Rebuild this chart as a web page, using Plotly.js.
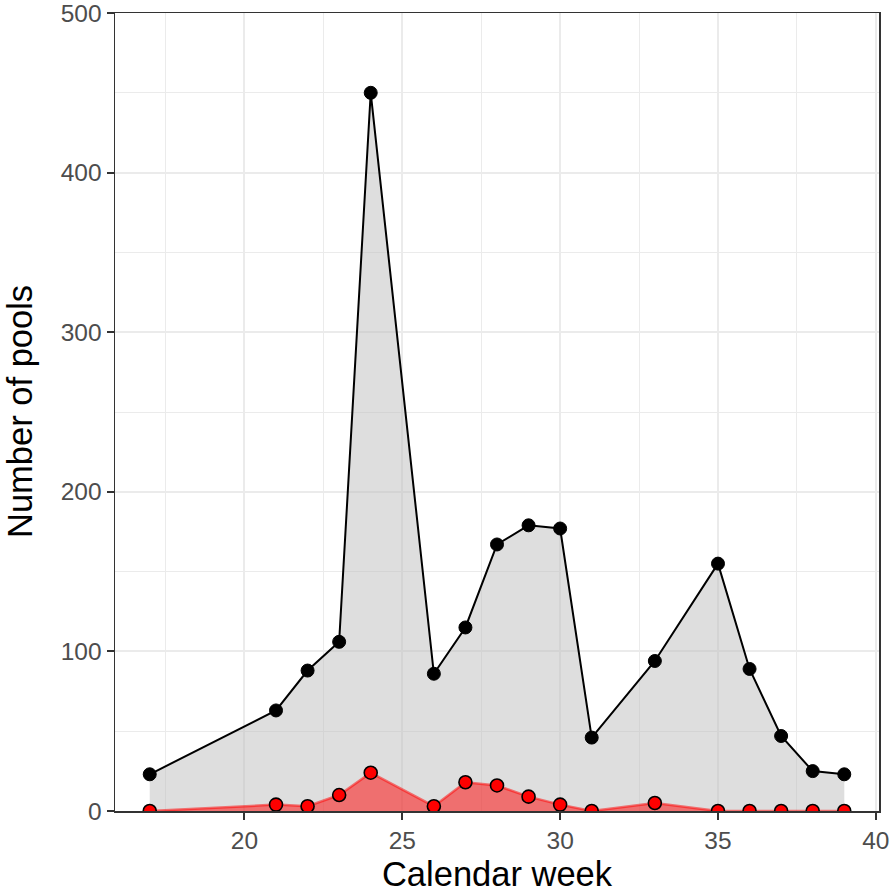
<!DOCTYPE html>
<html>
<head>
<meta charset="utf-8">
<script src="https://cdn.plot.ly/plotly-3.0.1.min.js"></script>
<style>html,body{margin:0;padding:0;background:#fff;}#chart{width:894px;height:893px;}</style>
</head>
<body>
<div id="chart"></div>
<script>
const weeks = [17, 21, 22, 23, 24, 26, 27, 28, 29, 30, 31, 33, 35, 36, 37, 38, 39];
const totalPools = [23, 63, 88, 106, 450, 86, 115, 167, 179, 177, 46, 94, 155, 89, 47, 25, 23];
const positivePools = [0, 4, 3, 10, 24, 3, 18, 16, 9, 4, 0, 5, 0, 0, 0, 0, 0];
const xTicks = [20, 25, 30, 35, 40];
const yTicks = [0, 100, 200, 300, 400, 500];

const traces = [
  {
    x: weeks, y: totalPools, type: 'scatter', mode: 'lines',
    fill: 'tozeroy', fillcolor: 'rgba(190,190,190,0.5)',
    line: {color: 'rgba(0,0,0,0)', width: 0}, hoverinfo: 'skip'
  },
  {
    x: weeks, y: totalPools, type: 'scatter', mode: 'lines+markers',
    line: {color: '#000000', width: 2},
    marker: {color: '#000000', size: 13, line: {color: '#000000', width: 1}}
  },
  {
    x: weeks, y: positivePools, type: 'scatter', mode: 'lines',
    fill: 'tozeroy', fillcolor: 'rgba(255,0,0,0.5)',
    line: {color: 'rgba(255,0,0,0.5)', width: 2.5}
  },
  {
    x: weeks, y: positivePools, type: 'scatter', mode: 'markers',
    marker: {color: '#FF0000', size: 13, line: {color: '#000000', width: 1.6}}
  }
];

const fontFam = 'Liberation Sans, Arial, Helvetica, sans-serif';
const layout = {
  width: 894, height: 893,
  margin: {l: 115, r: 15, t: 13, b: 82},
  paper_bgcolor: '#ffffff', plot_bgcolor: '#ffffff',
  showlegend: false,
  font: {family: fontFam},
  xaxis: {
    range: [15.9, 40.1], tickvals: xTicks, ticktext: xTicks.map(String),
    showgrid: true, gridcolor: '#EBEBEB', gridwidth: 2,
    minor: {tickvals: [17.5, 22.5, 27.5, 32.5, 37.5], showgrid: true, gridcolor: '#EBEBEB', gridwidth: 1, ticks: ''},
    zeroline: false,
    showline: true, linecolor: '#333333', linewidth: 1.5, mirror: true,
    ticks: 'outside', ticklen: 7, tickwidth: 2, tickcolor: '#333333',
    ticklabeloverflow: 'allow',
    tickfont: {size: 24.5, color: '#4D4D4D', family: fontFam},
    title: {text: 'Calendar week', font: {size: 34.5, color: '#000000', family: fontFam}, standoff: 14}
  },
  yaxis: {
    range: [0, 500], tickvals: yTicks, ticktext: yTicks.map(String),
    showgrid: true, gridcolor: '#EBEBEB', gridwidth: 2,
    minor: {tickvals: [50, 150, 250, 350, 450], showgrid: true, gridcolor: '#EBEBEB', gridwidth: 1, ticks: ''},
    zeroline: false,
    showline: true, linecolor: '#333333', linewidth: 1.5, mirror: true,
    ticks: 'outside', ticklen: 7, tickwidth: 2, tickcolor: '#333333',
    ticklabeloverflow: 'allow',
    tickfont: {size: 24.5, color: '#4D4D4D', family: fontFam}
  },
  annotations: [{
    text: 'Number of pools', xref: 'paper', yref: 'paper', x: 0, y: 0.5,
    xshift: -95, xanchor: 'center', yanchor: 'middle', textangle: -90, showarrow: false,
    font: {size: 34.5, color: '#000000', family: fontFam}
  }]
};

Plotly.newPlot('chart', traces, layout, {displayModeBar: false, staticPlot: true});
</script>
</body>
</html>
